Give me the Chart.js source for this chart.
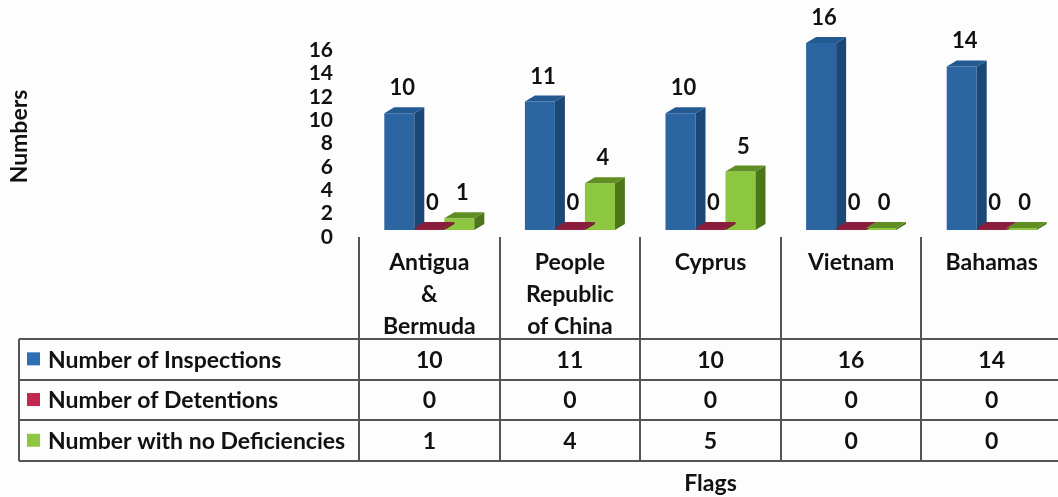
<!DOCTYPE html>
<html lang="en">
<head>
    <meta charset="UTF-8">
    <title>Flags - Inspections</title>
    <script src="https://cdn.jsdelivr.net/npm/chart.js"></script>
    <style>
        body { margin: 0; overflow: hidden; background: #fdfdfe; }
        #wrap { width: 1066px; height: 497px; }
    </style>
</head>
<body>
    <div id="wrap"><canvas id="chartCanvas" width="1066" height="497"></canvas></div>
    <script>
        const flags = [['Antigua', '&', 'Bermuda'], ['People', 'Republic', 'of China'], ['Cyprus'], ['Vietnam'], ['Bahamas']];
        const seriesNames = ['Number of Inspections', 'Number of Detentions', 'Number with no Deficiencies'];
        const inspections = [10, 11, 10, 16, 14];
        const detentions = [0, 0, 0, 0, 0];
        const noDeficiencies = [1, 4, 5, 0, 0];
        const yTicks = [0, 2, 4, 6, 8, 10, 12, 14, 16];

        // front, side, top, legend
        const palette = [
            { front: '#2b65a2', side: '#1b4877', top: '#245a92', key: '#2d6fb4' },
            { front: '#8e2040', side: '#6e1530', top: '#8a1d3c', key: '#c2284d' },
            { front: '#8dc63f', side: '#4c7718', top: '#5f8f22', key: '#8dc63f' }
        ];
        const FONT = 'Lato, "Open Sans", sans-serif';
        const DX = 10, DY = -6;

        // side and top faces for the pseudo 3D look
        const bars3d = {
            id: 'bars3d',
            afterDatasetsDraw(chart) {
                const ctx = chart.ctx;
                ctx.save();
                chart.data.datasets.forEach((ds, i) => {
                    const c = palette[i];
                    chart.getDatasetMeta(i).data.forEach(bar => {
                        const l = bar.x - bar.width / 2, r = bar.x + bar.width / 2;
                        const y = bar.y, b = bar.base;
                        ctx.fillStyle = c.side;
                        ctx.beginPath();
                        ctx.moveTo(r, y); ctx.lineTo(r + DX, y + DY); ctx.lineTo(r + DX, b + DY); ctx.lineTo(r, b);
                        ctx.closePath(); ctx.fill();
                        ctx.fillStyle = c.top;
                        ctx.beginPath();
                        ctx.moveTo(l, y); ctx.lineTo(l + DX, y + DY); ctx.lineTo(r + DX, y + DY); ctx.lineTo(r, y);
                        ctx.closePath(); ctx.fill();
                    });
                });
                // value labels
                ctx.font = 'bold 22px ' + FONT;
                ctx.fillStyle = '#111';
                ctx.textAlign = 'center';
                ctx.textBaseline = 'middle';
                chart.data.datasets.forEach((ds, i) => {
                    chart.getDatasetMeta(i).data.forEach((bar, j) => {
                        ctx.fillText(String(ds.data[j]), bar.x + 3, bar.y - 25);
                    });
                });
                ctx.restore();
            }
        };

        // data table under the axis
        const dataTable = {
            id: 'dataTable',
            afterDraw(chart) {
                const ctx = chart.ctx, x = chart.scales.x, area = chart.chartArea;
                const n = flags.length;
                const step = (area.right - area.left) / n;
                const headTop = area.bottom + 7, rowTop = 339, rowH = 40.7, tableLeft = 19;
                const rows = [inspections, detentions, noDeficiencies];
                ctx.save();
                ctx.strokeStyle = '#555';
                ctx.lineWidth = 2;
                const bottom = rowTop + rowH * rows.length;
                for (let k = 0; k <= n; k++) {
                    const gx = Math.round(area.left + k * step);
                    ctx.beginPath(); ctx.moveTo(gx, headTop); ctx.lineTo(gx, bottom); ctx.stroke();
                }
                ctx.beginPath(); ctx.moveTo(tableLeft, rowTop); ctx.lineTo(tableLeft, bottom); ctx.stroke();
                for (let r = 0; r <= rows.length; r++) {
                    const gy = Math.round(rowTop + r * rowH);
                    ctx.beginPath(); ctx.moveTo(tableLeft, gy); ctx.lineTo(area.right + 10, gy); ctx.stroke();
                }
                ctx.font = 'bold 23px ' + FONT;
                ctx.fillStyle = '#111';
                ctx.textBaseline = 'middle';
                rows.forEach((vals, r) => {
                    const cy = rowTop + (r + 0.5) * rowH;
                    ctx.fillStyle = palette[r].key;
                    ctx.fillRect(27, cy - 7, 13, 13);
                    ctx.fillStyle = '#111';
                    ctx.textAlign = 'left';
                    ctx.fillText(seriesNames[r], 48, cy + 1);
                    ctx.textAlign = 'center';
                    vals.forEach((v, j) => ctx.fillText(String(v), x.getPixelForValue(j), cy + 1));
                });
                ctx.restore();
            }
        };

        const ctx = document.getElementById('chartCanvas').getContext('2d');
        const chart = new Chart(ctx, {
            type: 'bar',
            data: {
                labels: flags,
                datasets: [
                    { label: seriesNames[0], data: inspections, backgroundColor: palette[0].front },
                    { label: seriesNames[1], data: detentions, backgroundColor: palette[1].front },
                    { label: seriesNames[2], data: noDeficiencies, backgroundColor: palette[2].front }
                ]
            },
            options: {
                responsive: false,
                animation: false,
                layout: { padding: { top: 43, right: 4, bottom: 0, left: 0 } },
                datasets: { bar: { barPercentage: 1, categoryPercentage: 0.64, minBarLength: 2 } },
                plugins: { legend: { display: false }, tooltip: { enabled: false } },
                scales: {
                    x: {
                        grid: { display: false, drawTicks: false },
                        border: { display: false },
                        ticks: { color: '#111', font: { family: FONT, size: 23, weight: 'bold', lineHeight: 1.39 }, padding: 17, maxRotation: 0, autoSkip: false },
                        title: { display: true, text: 'Flags', color: '#111', font: { family: FONT, size: 23, weight: 'bold' }, padding: { top: 0, bottom: 0 } },
                        afterFit: s => { s.height = 267; }
                    },
                    y: {
                        min: 0, max: 16,
                        afterBuildTicks: s => { s.ticks = yTicks.map(v => ({ value: v })); },
                        grid: { display: false, drawTicks: false },
                        border: { display: false },
                        ticks: { color: '#111', font: { family: FONT, size: 21, weight: 'bold', lineHeight: 1 }, padding: 26, labelOffset: 7, autoSkip: false },
                        title: { display: true, text: 'Numbers', color: '#111', font: { family: FONT, size: 23, weight: 'bold', lineHeight: 1 }, padding: { top: 8, bottom: 0 } },
                        afterFit: s => { s.width = 359; }
                    }
                }
            },
            plugins: [bars3d, dataTable]
        });
    </script>
</body>
</html>
